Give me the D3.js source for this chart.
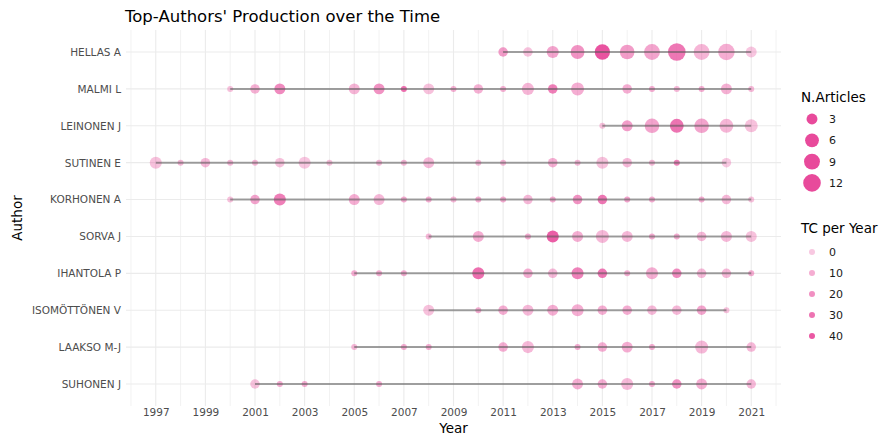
<!DOCTYPE html>
<html>
<head>
<meta charset="utf-8">
<script src="https://cdn.jsdelivr.net/npm/d3@7"></script>
<style>
  body { margin: 0; background: #fff; }
  text { font-family: "DejaVu Sans", sans-serif; }
</style>
</head>
<body>
<svg width="881" height="437"></svg>
<script>
// authors, top to bottom
const authors = ["HELLAS A", "MALMI L", "LEINONEN J", "SUTINEN E", "KORHONEN A",
  "SORVA J", "IHANTOLA P", "ISOMÖTTÖNEN V", "LAAKSO M-J", "SUHONEN J"];

// publication years per author
const pubYears = [
  [2011, 2012, 2013, 2014, 2015, 2016, 2017, 2018, 2019, 2020, 2021],
  [2000, 2001, 2002, 2005, 2006, 2007, 2008, 2009, 2010, 2011, 2012, 2013, 2014, 2016, 2017, 2018, 2019, 2020, 2021],
  [2015, 2016, 2017, 2018, 2019, 2020, 2021],
  [1997, 1998, 1999, 2000, 2001, 2002, 2003, 2004, 2006, 2007, 2008, 2010, 2011, 2013, 2014, 2015, 2016, 2017, 2018, 2020],
  [2000, 2001, 2002, 2005, 2006, 2007, 2008, 2009, 2010, 2011, 2012, 2013, 2014, 2015, 2016, 2017, 2019, 2020, 2021],
  [2008, 2010, 2012, 2013, 2014, 2015, 2016, 2017, 2018, 2019, 2020, 2021],
  [2005, 2006, 2007, 2010, 2012, 2013, 2014, 2015, 2016, 2017, 2018, 2019, 2020, 2021],
  [2008, 2010, 2011, 2012, 2013, 2014, 2015, 2016, 2017, 2018, 2019, 2020],
  [2005, 2007, 2008, 2011, 2012, 2014, 2015, 2016, 2017, 2019, 2021],
  [2001, 2002, 2003, 2006, 2014, 2015, 2016, 2017, 2018, 2019, 2021]
];

// number of articles per year
const nArticles = [
  [2, 2, 4, 6, 8, 7, 9, 12, 9, 10, 3],
  [1, 2, 3, 3, 3, 1, 3, 1, 2, 1, 4, 2, 5, 2, 1, 1, 1, 3, 1],
  [1, 3, 7, 6, 7, 6, 5],
  [4, 1, 2, 1, 1, 2, 4, 1, 1, 1, 3, 1, 1, 2, 1, 4, 2, 1, 1, 2],
  [1, 2, 4, 3, 3, 1, 1, 1, 1, 1, 2, 1, 2, 2, 1, 1, 1, 2, 1],
  [1, 3, 1, 4, 3, 5, 3, 1, 1, 2, 3, 3],
  [1, 1, 1, 4, 2, 2, 4, 2, 1, 4, 2, 2, 2, 1],
  [3, 1, 2, 3, 3, 4, 2, 2, 2, 2, 2, 1],
  [1, 1, 1, 2, 4, 1, 2, 3, 1, 5, 2],
  [2, 1, 1, 1, 3, 2, 4, 1, 2, 3, 2]
];

// total citations per year
const tcPerYear = [
  [16, 3, 13, 19, 42, 16, 13, 29, 7, 10, 1],
  [3, 9, 22, 7, 19, 32, 3, 9, 9, 9, 7, 26, 10, 10, 10, 6, 10, 9, 6],
  [3, 15, 13, 30, 13, 7, 3],
  [3, 6, 6, 6, 6, 3, 1, 3, 6, 6, 6, 6, 6, 10, 6, 3, 6, 6, 25, 0],
  [3, 13, 26, 10, 6, 10, 10, 6, 10, 10, 6, 10, 19, 29, 13, 10, 10, 6, 3],
  [6, 10, 10, 38, 10, 6, 6, 10, 10, 6, 6, 3],
  [10, 10, 10, 32, 10, 6, 25, 29, 10, 10, 22, 6, 6, 10],
  [3, 10, 10, 6, 10, 10, 10, 10, 6, 6, 13, 3],
  [6, 10, 10, 10, 6, 10, 10, 10, 10, 6, 6],
  [3, 10, 10, 10, 10, 10, 6, 10, 19, 10, 6]
];

const yearTicks = [1997, 1999, 2001, 2003, 2005, 2007, 2009, 2011, 2013, 2015, 2017, 2019, 2021];
const sizeBreaks = [3, 6, 9, 12];
const tcBreaks = [0, 10, 20, 30, 40];

const pink = "#e84a9b";

var svg = d3.select("svg");

var margin = { top: 30, right: 100, bottom: 31, left: 126 };
var plotLeft = margin.left, plotRight = 881 - margin.right;
var plotTop = margin.top, plotBottom = 437 - margin.bottom;

var x = d3.scaleLinear().domain([1995.8, 2022.2]).range([plotLeft, plotRight]);
var y = d3.scalePoint().domain(authors).range([52, 384]);

var maxF = d3.max(nArticles, d => d3.max(d));
var minF = d3.min(nArticles, d => d3.min(d));
var rScale = d3.scaleLinear().domain([0, Math.sqrt(maxF - minF)]).range([3, 8.8]);
var radius = f => rScale(Math.sqrt(f - minF));
var alpha = d3.scaleLinear().domain([0, 45]).range([0.3, 1]);

// flatten into rows
var points = [];
authors.forEach(function(a, i) {
  pubYears[i].forEach(function(yr, j) {
    points.push({ author: a, year: yr, n: nArticles[i][j], tc: tcPerYear[i][j] });
  });
});

// grid
var grid = svg.append("g");
d3.range(1996, 2023).forEach(function(yr) {
  grid.append("line")
    .attr("x1", x(yr)).attr("x2", x(yr))
    .attr("y1", plotTop).attr("y2", plotBottom)
    .attr("stroke", yr % 2 ? "#ebebeb" : "#f2f2f2")
    .attr("stroke-width", yr % 2 ? 1.1 : 1);
});
authors.forEach(function(a) {
  grid.append("line")
    .attr("x1", plotLeft).attr("x2", plotRight)
    .attr("y1", y(a)).attr("y2", y(a))
    .attr("stroke", "#ebebeb").attr("stroke-width", 1.1);
});

// points
svg.append("g").selectAll("circle")
  .data(points)
  .enter().append("circle")
  .attr("cx", d => x(d.year))
  .attr("cy", d => y(d.author))
  .attr("r", d => radius(d.n))
  .attr("fill", pink)
  .attr("fill-opacity", d => alpha(d.tc));

// time lines
svg.append("g").selectAll("line")
  .data(authors)
  .enter().append("line")
  .attr("x1", (d, i) => x(d3.min(pubYears[i])))
  .attr("x2", (d, i) => x(d3.max(pubYears[i])))
  .attr("y1", d => y(d)).attr("y2", d => y(d))
  .attr("stroke", "#555").attr("stroke-opacity", 0.55)
  .attr("stroke-width", 2);

// axes
var xAxis = svg.append("g")
  .attr("transform", "translate(0," + plotBottom + ")")
  .call(d3.axisBottom(x).tickValues(yearTicks).tickFormat(d3.format("d")).tickSize(0).tickPadding(3));
var yAxis = svg.append("g")
  .attr("transform", "translate(" + plotLeft + ",0)")
  .call(d3.axisLeft(y).tickSize(0).tickPadding(5));
[xAxis, yAxis].forEach(function(g) {
  g.select(".domain").remove();
  g.selectAll("text").attr("fill", "#4d4d4d").style("font-size", "10.5px")
    .style("font-family", "DejaVu Sans, sans-serif");
});

// titles
svg.append("text").attr("x", 125).attr("y", 22)
  .style("font-size", "16.5px").attr("fill", "#000")
  .text("Top-Authors' Production over the Time");
svg.append("text").attr("x", (plotLeft + plotRight) / 2).attr("y", 433)
  .attr("text-anchor", "middle").style("font-size", "13.5px")
  .text("Year");
svg.append("text")
  .attr("transform", "translate(22," + ((plotTop + plotBottom) / 2) + ") rotate(-90)")
  .attr("text-anchor", "middle").style("font-size", "13.5px")
  .text("Author");

// legends
var leg = svg.append("g");
leg.append("text").attr("x", 801).attr("y", 102).style("font-size", "13.5px").text("N.Articles");
sizeBreaks.forEach(function(b, i) {
  var cy = 119 + i * 21.3;
  leg.append("circle").attr("cx", 812).attr("cy", cy).attr("r", radius(b)).attr("fill", pink);
  leg.append("text").attr("x", 829).attr("y", cy + 4).style("font-size", "11px")
    .attr("fill", "#1a1a1a").text(b);
});
leg.append("text").attr("x", 801).attr("y", 233).style("font-size", "13.5px").text("TC per Year");
tcBreaks.forEach(function(b, i) {
  var cy = 252 + i * 21;
  leg.append("circle").attr("cx", 812).attr("cy", cy).attr("r", 3)
    .attr("fill", pink).attr("fill-opacity", alpha(b));
  leg.append("text").attr("x", 829).attr("y", cy + 4).style("font-size", "11px")
    .attr("fill", "#1a1a1a").text(b);
});
</script>
</body>
</html>
